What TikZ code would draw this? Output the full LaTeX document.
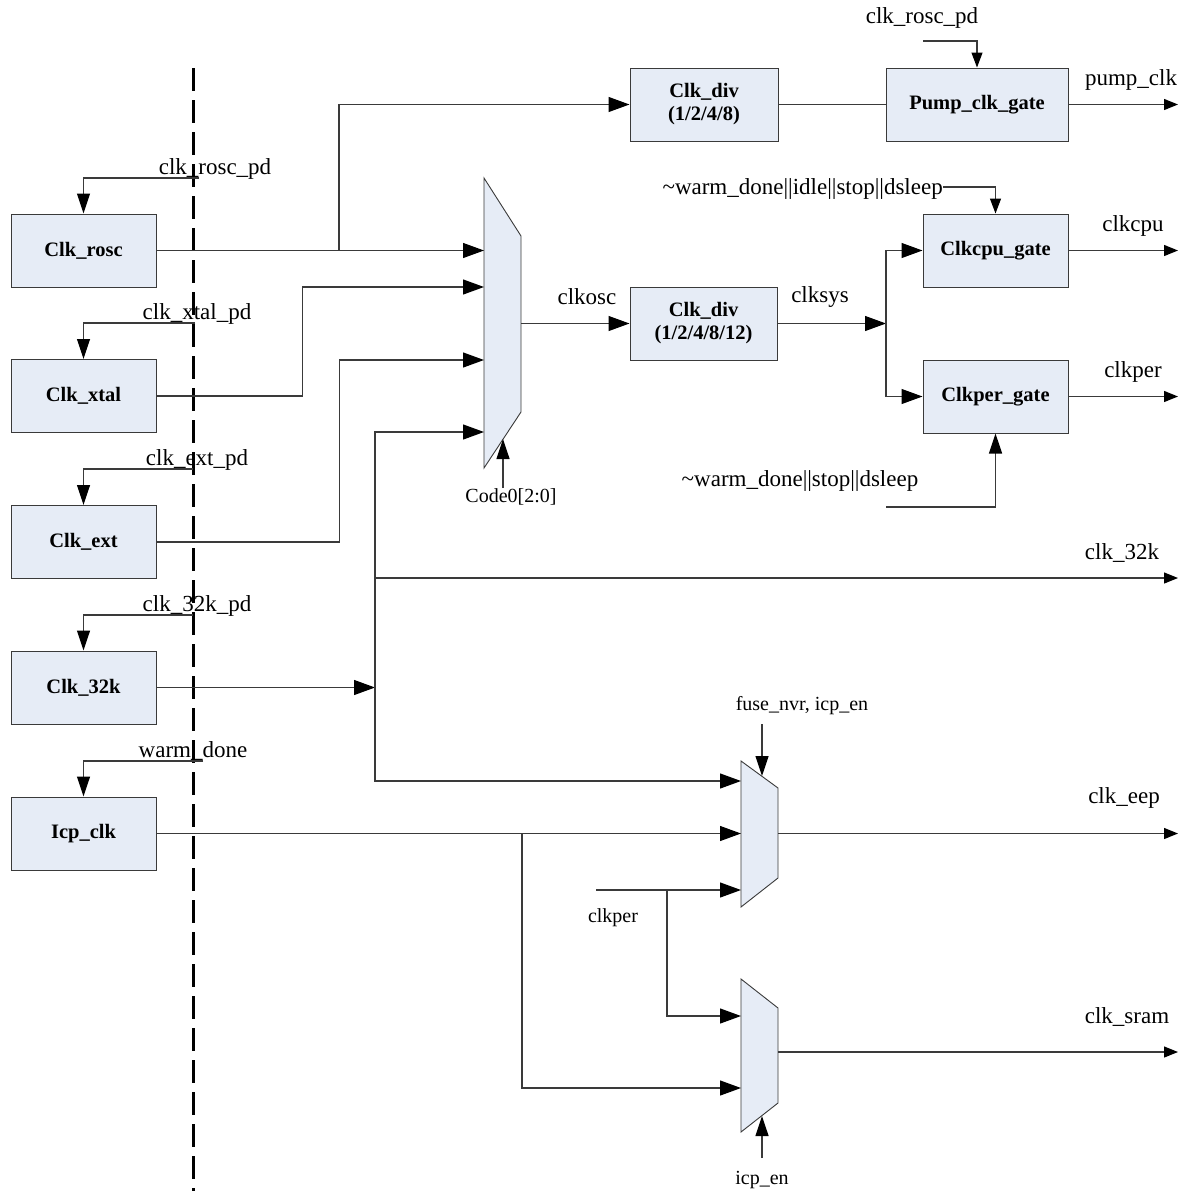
\documentclass[tikz,border=0pt]{standalone}
\usepackage{fontspec}
\setmainfont{Liberation Serif}
\usetikzlibrary{arrows.meta,positioning,calc}
\definecolor{boxblue}{HTML}{E6ECF6}
\definecolor{wire}{HTML}{3A3A3A}
\newcommand{\lblsize}{\fontsize{23}{25}\selectfont}
\newcommand{\smallsize}{\fontsize{20}{22}\selectfont}
\tikzset{block/.style={rectangle,draw=wire,fill=boxblue,line width=1pt,minimum width=145pt,minimum height=73pt,inner sep=2pt,align=center,font=\fontsize{20.5}{23}\selectfont\bfseries},muxbody/.style={draw=wire,fill=boxblue,line width=.9pt,line join=miter},sig/.style={-{Triangle[length=21pt,width=15pt,color=black]},draw=wire,line width=1.2pt},outsig/.style={-{Triangle[length=14pt,width=11pt,color=black]},draw=wire,line width=1.2pt},ctl/.style={-{Triangle[length=20pt,width=13pt,color=black]},draw=wire,line width=1.2pt},ctlsmall/.style={-{Triangle[length=15pt,width=11pt,color=black]},draw=wire,line width=1.2pt},wirelbl/.style={inner sep=0pt,font=\lblsize},smalllbl/.style={inner sep=0pt,font=\smallsize}}

\begin{document}
\begin{tikzpicture}[x=1pt,y=-1pt]
\useasboundingbox (0,0) rectangle (1184,1191);
% clock sources
\node[block] (rosc) at (83.5,250.5) {Clk\_rosc};
\node[block] (xtal) at (83.5,396) {Clk\_xtal};
\node[block] (ext) at (83.5,542) {Clk\_ext};
\node[block] (k32) at (83.5,687.5) {Clk\_32k};
\node[block] (icp) at (83.5,833.5) {Icp\_clk};
\draw[line width=3pt,dash pattern=on 23pt off 9pt] (193,68) -- (193,1191);
% power-down controls
\coordinate (rpd) at (199,178);
\coordinate (xpd) at (195,323);
\coordinate (epd) at (193,469);
\coordinate (kpd) at (193,615);
\coordinate (wpd) at (203,761);
\draw[ctl] (rpd) -| (rosc.north);
\draw[ctl] (xpd) -| (xtal.north);
\draw[ctl] (epd) -| (ext.north);
\draw[ctl] (kpd) -| (k32.north);
\draw[ctl] (wpd) -| (icp.north);
\node[wirelbl,anchor=base] (rpdl) at (215,174) {clk\_rosc\_pd};
\node[wirelbl,anchor=base] (xpdl) at (197,319) {clk\_xtal\_pd};
\node[wirelbl,anchor=base] (epdl) at (197,465) {clk\_ext\_pd};
\node[wirelbl,anchor=base] (kpdl) at (197,611) {clk\_32k\_pd};
\node[wirelbl,anchor=base] (wpdl) at (193,757) {warm\_done};
% main clock mux
\draw[muxbody] (484,178) -- (521,236) -- (521,412) -- (484,468) -- cycle;
\coordinate (mi1) at (484,250.5);
\coordinate (mi2) at (484,287);
\coordinate (mi3) at (484,360);
\coordinate (mi4) at (484,432);
\coordinate (mo) at (521,323.5);
\coordinate (msel) at (503,439);
\coordinate (mcode) at (503,488);
\draw[sig] (rosc.east) -- (mi1);
\draw[sig] (xtal.east) -- ++(146,0) |- (mi2);
\draw[sig] (ext.east) -- ++(183,0) |- (mi3);
\coordinate (bus) at (375,687.5);
\draw[sig] (k32.east) -- (bus);
\draw[sig] (bus) |- (mi4);
\draw[ctl] (mcode) -- (msel);
\node[smalllbl] (codel) at (511,497) {Code0[2:0]};
% pump clock
\node[block,minimum width=148pt] (diva) at (704,104.5) {Clk\_div\\(1/2/4/8)};
\node[block,minimum width=182pt] (pump) at (977,104.5) {Pump\_clk\_gate};
\coordinate (j1) at (339,250.5);
\draw[sig] (j1) |- (diva.west);
\draw[draw=wire,line width=1.2pt] (diva.east) -- (pump.west);
\coordinate (ppd) at (923,41);
\draw[ctlsmall] (ppd) -| (pump.north);
\node[wirelbl] (ppdl) at (922,18) {clk\_rosc\_pd};
\coordinate (opump) at (1178,104.5);
\draw[outsig] (pump.east) -- (opump);
\node[wirelbl] (opumpl) at (1131,80) {pump\_clk};
% system clock
\node[block,minimum width=147pt] (divb) at (703.5,323.5) {Clk\_div\\(1/2/4/8/12)};
\node[block] (cpu) at (995.5,250.5) {Clkcpu\_gate};
\node[block] (per) at (995.5,396.5) {Clkper\_gate};
\draw[sig] (mo) -- (divb.west);
\node[wirelbl] (oscl) at (587,297) {clkosc};
\coordinate (js) at (886,323.5);
\draw[sig] (divb.east) -- (js);
\node[wirelbl] (sysl) at (820,297) {clksys};
\draw[sig] (js) |- (cpu.west);
\draw[sig] (js) |- (per.west);
\coordinate (wc) at (943,187);
\draw[ctlsmall] (wc) -| (cpu.north);
\node[wirelbl,anchor=east] (wcl) at (943,189) {\textasciitilde warm\_done||idle||stop||dsleep};
\coordinate (wp) at (886,507);
\draw[ctl] (wp) -| (per.south);
\node[wirelbl] (wpl) at (800,481) {\textasciitilde warm\_done||stop||dsleep};
\coordinate (ocpu) at (1178,250.5);
\coordinate (oper) at (1178,396.5);
\draw[outsig] (cpu.east) -- (ocpu);
\draw[outsig] (per.east) -- (oper);
\node[wirelbl] (ocpul) at (1133,226) {clkcpu};
\node[wirelbl] (operl) at (1133,372) {clkper};
% 32k output
\coordinate (o32) at (1178,578);
\draw[outsig] (o32 -| bus) -- (o32);
\node[wirelbl] (o32l) at (1122,553) {clk\_32k};
% eeprom clock mux
\draw[muxbody] (741,761) -- (778,788) -- (778,878) -- (741,907) -- cycle;
\coordinate (ua1) at (741,781);
\coordinate (ua2) at (741,833.5);
\coordinate (ua3) at (741,890);
\coordinate (uao) at (778,833.5);
\coordinate (uasel) at (762,776);
\coordinate (fuse) at (762,724);
\draw[sig] (bus) |- (ua1);
\draw[sig] (icp.east) -- (ua2);
\coordinate (cp) at (596,890);
\draw[sig] (cp) -- (ua3);
\node[smalllbl] (cpl) at (613,918) {clkper};
\draw[ctl] (fuse) -- (uasel);
\node[smalllbl] (fusel) at (802,706) {fuse\_nvr, icp\_en};
\coordinate (oeep) at (1178,833.5);
\draw[outsig] (uao) -- (oeep);
\node[wirelbl] (oeepl) at (1124,798) {clk\_eep};
% sram clock mux
\draw[muxbody] (741,979) -- (778,1008) -- (778,1103) -- (741,1132) -- cycle;
\coordinate (lb1) at (741,1016);
\coordinate (lb2) at (741,1088);
\coordinate (lbo) at (778,1052);
\coordinate (lbsel) at (762,1116);
\coordinate (icpen) at (762,1158);
\coordinate (j2) at (522,833.5);
\coordinate (j3) at (667,890);
\draw[sig] (j3) |- (lb1);
\draw[sig] (j2) |- (lb2);
\draw[ctl] (icpen) -- (lbsel);
\node[smalllbl] (icpenl) at (762,1180) {icp\_en};
\coordinate (osram) at (1178,1052);
\draw[outsig] (lbo) -- (osram);
\node[wirelbl] (osraml) at (1127,1017) {clk\_sram};
\end{tikzpicture}
\end{document}
